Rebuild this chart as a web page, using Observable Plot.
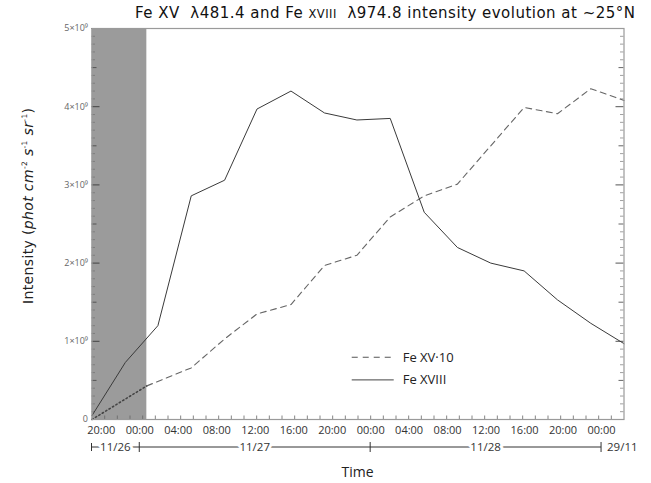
<!DOCTYPE html>
<html><head><meta charset="utf-8">
<script src="https://cdn.jsdelivr.net/npm/d3@7"></script>
<script src="https://cdn.jsdelivr.net/npm/@observablehq/plot@0.6"></script>
<style>body{margin:0;background:#fff} svg{display:block}</style>
</head><body><div id="chart"></div>
<script>
// ---- data (intensity in units of 1e9 phot cm^-2 s^-1 sr^-1) ----
const times = ["2003-11-26T19:02Z","2003-11-26T22:30Z","2003-11-27T01:53Z","2003-11-27T05:21Z",
  "2003-11-27T08:49Z","2003-11-27T12:11Z","2003-11-27T15:43Z","2003-11-27T19:12Z","2003-11-27T22:34Z",
  "2003-11-28T02:02Z","2003-11-28T05:34Z","2003-11-28T09:01Z","2003-11-28T12:29Z","2003-11-28T15:57Z",
  "2003-11-28T19:25Z","2003-11-28T22:53Z","2003-11-29T02:20Z"];
const feXVIII = [0.05,0.73,1.20,2.86,3.06,3.97,4.20,3.92,3.83,3.85,2.65,2.20,2.00,1.90,1.53,1.23,0.97];
const feXVtimes = ["2003-11-27T00:44Z","2003-11-27T05:21Z","2003-11-27T08:49Z","2003-11-27T12:11Z",
  "2003-11-27T15:43Z","2003-11-27T19:12Z","2003-11-27T22:34Z","2003-11-28T02:02Z","2003-11-28T05:34Z",
  "2003-11-28T09:01Z","2003-11-28T12:29Z","2003-11-28T15:57Z","2003-11-28T19:25Z","2003-11-28T22:53Z",
  "2003-11-29T02:20Z"];
const feXV10 = [0.43,0.66,1.03,1.35,1.47,1.97,2.10,2.59,2.86,3.01,3.50,3.99,3.91,4.23,4.08];
const feXVextrapTimes = ["2003-11-26T19:02Z","2003-11-27T00:44Z"];
const feXVextrap = [0.0,0.43];
const shadeStart = "2003-11-26T19:02Z", shadeEnd = "2003-11-27T00:44Z";
const yTickValues = [0,1,2,3,4,5];
const xLabelStart = "2003-11-26T20:00Z", xLabelEnd = "2003-11-29T00:00Z";
const dayStarts = ["2003-11-27T00:00Z","2003-11-28T00:00Z","2003-11-29T00:00Z"];
const dayLabels = ["11/26","11/27","11/28","29/11"];
const seriesNames = ["Fe XV·10","Fe XVIII"];

// ---- build tables ----
const P = s => new Date(s);
const xviii = times.map((t,i)=>({t:P(t), v:feXVIII[i]*1e9}));
const xv = feXVtimes.map((t,i)=>({t:P(t), v:feXV10[i]*1e9}));
const xvEx = feXVextrapTimes.map((t,i)=>({t:P(t), v:feXVextrap[i]*1e9}));

const W=651, H=483, mL=91.5, mR=27.5, mT=28, mB=64;
const pw = W-mL-mR, ph = H-mT-mB;
const t0 = P(times[0]), tN = P(times[times.length-1]);
const yMinor = d3.range(0, 50.5).map(i=>i*1e8).filter(v=>v%5e8!==0);
const yHalf = d3.range(0, 10.5).map(i=>i*5e8).filter(v=>v%1e9!==0);
const yMajor = yTickValues.map(v=>v*1e9);
const xMinor = d3.range(1, 43).map(i=>new Date(+t0 + i*79*60000)).filter(d=>d<tN);
const xLabels = d3.utcHour.every(4).range(P(xLabelStart), new Date(+P(xLabelEnd)+1));

const chart = Plot.plot({
  width: W, height: H,
  marginLeft: mL, marginRight: mR, marginTop: mT, marginBottom: mB,
  style: {fontFamily: "'Open Sans', sans-serif", background: "white", overflow: "visible"},
  x: {type: "utc", domain: [t0, tN]},
  y: {domain: [0, 5e9]},
  marks: [
    Plot.rect([{a:P(shadeStart), b:P(shadeEnd)}], {x1:"a", x2:"b", y1: ()=>0, y2: ()=>5e9, fill:"#9b9b9b"}),
    Plot.ruleY(yMinor, {insetRight: pw-3.5, stroke:"#777", strokeWidth:0.8}),
    Plot.ruleY(yHalf, {insetRight: pw-5, stroke:"#555", strokeWidth:1}),
    Plot.ruleY(yMajor, {insetRight: pw-8, stroke:"#444", strokeWidth:1}),
    Plot.ruleY(yMinor, {insetLeft: pw-3.5, stroke:"#888", strokeWidth:0.8}),
    Plot.ruleY(yHalf, {insetLeft: pw-5, stroke:"#666", strokeWidth:1}),
    Plot.ruleY(yMajor, {insetLeft: pw-8, stroke:"#555", strokeWidth:1}),
    Plot.ruleX(xMinor, {insetTop: ph-3.5, stroke:"#666", strokeWidth:0.8}),
    Plot.line(xvEx, {x:"t", y:"v", stroke:"#444", strokeWidth:1.6, strokeDasharray:"1.4,2.6"}),
    Plot.line(xv, {x:"t", y:"v", stroke:"#666", strokeWidth:1.1, strokeDasharray:"6,4.5"}),
    Plot.line(xviii, {x:"t", y:"v", stroke:"#3a3a3a", strokeWidth:1}),
    Plot.frame({stroke:"#9a9a9a", strokeWidth:1.2}),
    Plot.axisY(yMajor, {tickSize:0, tickPadding:4, fontSize:9, fill:"#666", label:null,
      tickFormat: d => d===0 ? "0" : `${d/1e9}×10⁹`}),
    Plot.axisX(xLabels, {tickSize:0, tickPadding:7, fontSize:11, fill:"#333", label:null,
      tickFormat: d3.utcFormat("%H:%M")})
  ]
});
document.getElementById("chart").appendChild(chart);

// ---- decorations placed via the chart's own scales ----
const svg = d3.select(chart);
const X = chart.scale("x"), Y = chart.scale("y");
const x = d => X.apply(d), y = v => Y.apply(v);
const font = "'Open Sans', sans-serif";

// date bar
const yb = y(0) + 28;
const g = svg.append("g").attr("stroke","#333").attr("stroke-width",1);
g.append("line").attr("x1", x(t0)).attr("x2", x(P(dayStarts[2]))).attr("y1", yb).attr("y2", yb);
g.append("line").attr("x1", x(t0)).attr("x2", x(t0)).attr("y1", yb-4).attr("y2", yb+4);
dayStarts.forEach(d=>{ g.append("line").attr("x1", x(P(d))).attr("x2", x(P(d))).attr("y1", yb-5).attr("y2", yb+5); });
const labelPos = [
  new Date((+t0 + +P(dayStarts[0]))/2),
  new Date(+P(dayStarts[0]) + 12*3600e3),
  new Date(+P(dayStarts[1]) + 12*3600e3)
];
labelPos.forEach((d,i)=>{
  svg.append("text").attr("x", x(d)).attr("y", yb).attr("dy","0.35em").attr("text-anchor","middle")
    .attr("font-family", font).attr("font-size", 11.5).attr("fill","#333")
    .attr("stroke","white").attr("stroke-width",6).attr("paint-order","stroke").text(dayLabels[i]);
});
svg.append("text").attr("x", x(P(dayStarts[2]))+6).attr("y", yb).attr("dy","0.35em")
  .attr("text-anchor","start")
  .attr("font-family", font).attr("font-size", 11.5).attr("fill","#333").text(dayLabels[3]);

// x label
svg.append("text").attr("x", mL + pw/2).attr("y", H-6).attr("text-anchor","middle")
  .attr("font-family", font).attr("font-size", 14).attr("fill","#222").text("Time");

// y label
const yl = svg.append("text").attr("transform", `translate(33,206) rotate(-90)`)
  .attr("text-anchor","middle").attr("font-family", "'DejaVu Sans', sans-serif").attr("font-size", 14)
  .attr("fill","#222").attr("textLength", 196).attr("lengthAdjust","spacing");
yl.append("tspan").text("Intensity (");
yl.append("tspan").attr("font-style","italic").text("phot cm");
yl.append("tspan").attr("font-size",7.5).attr("dy",-6).text("-2");
yl.append("tspan").attr("font-style","italic").attr("dy",6).text(" s");
yl.append("tspan").attr("font-size",7.5).attr("dy",-6).text("-1");
yl.append("tspan").attr("font-style","italic").attr("dy",6).text(" sr");
yl.append("tspan").attr("font-size",7.5).attr("dy",-6).text("-1");
yl.append("tspan").attr("dy",6).text(")");

// title
const tt = svg.append("text").attr("x", 135).attr("y", 17.5).attr("text-anchor","start")
  .attr("font-family", "'DejaVu Sans', sans-serif").attr("font-size", 15).attr("fill","#111")
  .attr("textLength", 500).attr("lengthAdjust", "spacing");
tt.append("tspan").text("Fe XV  λ481.4 and Fe ");
tt.append("tspan").attr("font-size", 11.5).text("XVIII");
tt.append("tspan").text("  λ974.8 intensity evolution at ~25°N");

// legend
const lx = x(P("2003-11-27T22:05Z")), ly1 = y(0.79e9), ly2 = y(0.50e9);
const lg = svg.append("g");
lg.append("line").attr("x1", lx).attr("x2", lx+42).attr("y1", ly1).attr("y2", ly1)
  .attr("stroke","#555").attr("stroke-width",1.1).attr("stroke-dasharray","6,5");
lg.append("line").attr("x1", lx).attr("x2", lx+42).attr("y1", ly2).attr("y2", ly2)
  .attr("stroke","#444").attr("stroke-width",1);
[ly1, ly2].forEach((yy,i)=>{
  lg.append("text").attr("x", lx+51).attr("y", yy).attr("dy","0.35em").attr("text-anchor","start")
    .attr("font-family", font).attr("font-size", 13).attr("fill","#222").text(seriesNames[i]);
});
</script></body></html>
